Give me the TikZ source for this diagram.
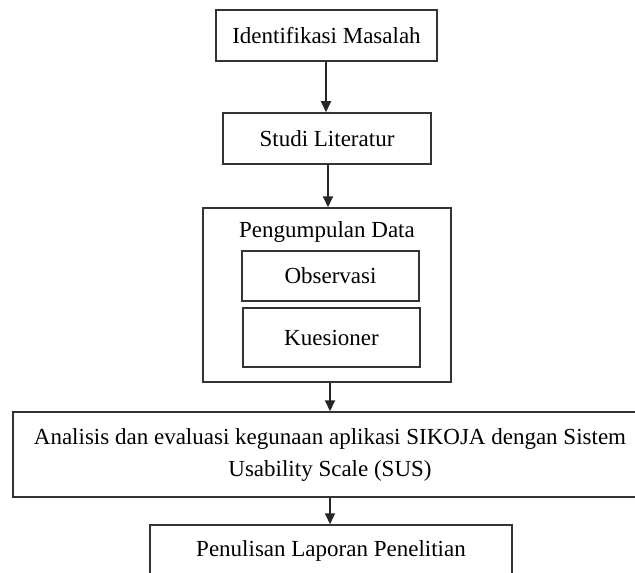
\documentclass[tikz,border=0pt]{standalone}
\usepackage{fontspec}
\setmainfont{Liberation Serif}
\usetikzlibrary{arrows.meta}

\begin{document}
\begin{tikzpicture}[x=0.5pt, y=-0.5pt, font=\fontsize{11.5}{16}\selectfont]
    \tikzstyle{block} = [draw=black!80, line width=0.75pt, rectangle, inner sep=0pt, align=center];
    \tikzstyle{line} = [draw=black!85, line width=0.9pt, -{Triangle[length=5.5pt, width=5pt]}];
    \useasboundingbox (0,0) rectangle (635,572);
    \clip (0,0) rectangle (635,572);
    \node[block, minimum width=110.5pt, minimum height=25.5pt] (masalah) at (326.5,35.5) {Identifikasi Masalah};
    \node[block, minimum width=104pt, minimum height=25.5pt] (studi) at (327,138.5) {Studi Literatur};
    \node[block, minimum width=124pt, minimum height=87pt] (data) at (327,295) {};
    \node (datatitle) at (327,232) {Pengumpulan Data};
    \node[block, minimum width=88.5pt, minimum height=25pt] (obs) at (330.5,276) {Observasi};
    \node[block, minimum width=88.5pt, minimum height=29.5pt] (kues) at (331.5,337.5) {Kuesioner};
    \node[block, minimum width=317pt, minimum height=42.5pt] (sus) at (330,454.5)
        {Analisis dan evaluasi kegunaan aplikasi SIKOJA dengan Sistem\\Usability Scale (SUS)};
    \node[block, minimum width=181pt, minimum height=25.5pt] (laporan) at (331,550.5) {Penulisan Laporan Penelitian};
    % arrows between the steps
    \path[line] ([xshift=-0.25pt]masalah.south) -- ([xshift=-0.25pt]masalah.south |- studi.north);
    \path[line] ([xshift=0.5pt]studi.south) -- ([xshift=0.5pt]studi.south |- data.north);
    \path[line] ([xshift=1.5pt]data.south) -- ([xshift=1.5pt]data.south |- sus.north);
    \path[line] (sus.south) -- (sus.south |- laporan.north);
\end{tikzpicture}
\end{document}
